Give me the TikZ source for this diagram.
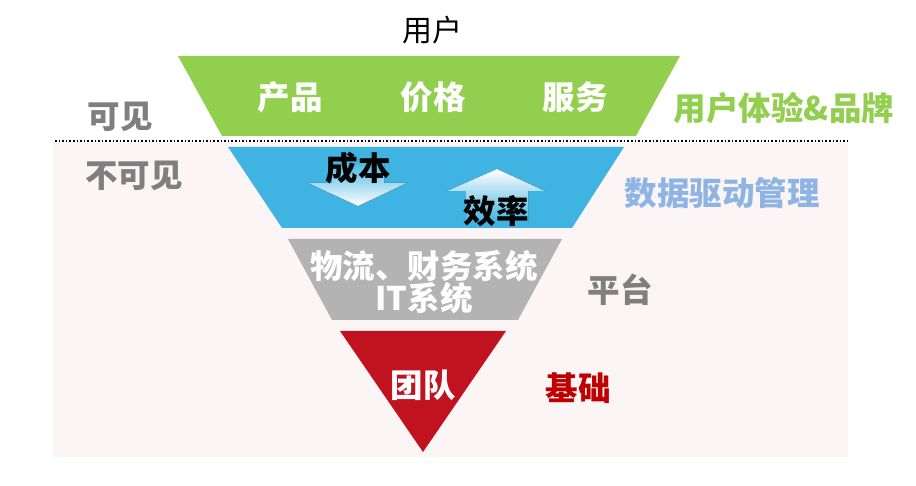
\documentclass[tikz,border=0pt]{standalone}
\usepackage{fontspec}
\setmainfont{Noto Sans CJK SC}
\usepackage{tikz}
\definecolor{bgpink}{HTML}{FCF5F5}
\definecolor{lgreen}{HTML}{92CF4F}
\definecolor{lblue}{HTML}{3FB3E2}
\definecolor{lgray}{HTML}{B3B3B4}
\definecolor{lred}{HTML}{C1121F}
\definecolor{tgray}{HTML}{7F7F7F}
\definecolor{tblue}{HTML}{8EB4E3}
\definecolor{tred}{HTML}{C00000}
\definecolor{arrowblue}{HTML}{C2E6F7}
\tikzset{big/.style={font=\fontsize{32.5}{36}\bfseries\selectfont,inner sep=0pt},
  inner/.style={big,text=white},
  side/.style={big,text=tgray},
  blockarrow/.style={middle color=arrowblue,draw=none}}

\begin{document}
\begin{tikzpicture}[x=1pt,y=-1pt]
\useasboundingbox (0,0) rectangle (916,486);
\fill[bgpink] (53,142) rectangle (848,457);
\draw[dotted,line width=1.6pt] (55,141) -- (848,141);
% layers
\fill[lgreen] (178,56) -- (680,56) -- (636,136) -- (222,136) -- cycle;
\fill[lblue] (228,147) -- (624,147) -- (572,228) -- (282,228) -- cycle;
\fill[lgray] (288,239) -- (562,239) -- (518,320) -- (332,320) -- cycle;
\fill[lred] (340,331) -- (506,331) -- (423,452) -- cycle;
% arrows
\fill[blockarrow,top color=lblue,bottom color=white] (332,160) -- (384,160) -- (384,183) -- (407,183) -- (358,206) -- (308,183) -- (332,183) -- cycle;
\fill[blockarrow,top color=white,bottom color=lblue] (497,169) -- (545,191) -- (528,191) -- (528,222) -- (466,222) -- (466,191) -- (447,191) -- cycle;
% texts
\node[font=\fontsize{30}{33}\selectfont,inner sep=0pt] (user) at (432,30) {用户};
\node[inner] (prod) at (290,97) {产品};
\node[inner] (price) at (433,97) {价格};
\node[inner] (serv) at (575,97) {服务};
\node[big,text=lgreen] (brand) at (784,108) {用户体验\&品牌};
\node[side] (vis) at (120,117) {可见};
\node[side] (invis) at (134,176) {不可见};
\node[big] (cost) at (358,168) {成本};
\node[big] (eff) at (496,211) {效率};
\node[big,text=tblue] (data) at (722,193) {数据驱动管理};
\node[inner] (sys1) at (424,266) {物流、财务系统};
\node[inner] (sys2) at (424,298) {IT系统};
\node[side] (plat) at (620,290) {平台};
\node[inner] (team) at (423,385) {团队};
\node[big,text=tred] (base) at (578,388) {基础};
\end{tikzpicture}
\end{document}
